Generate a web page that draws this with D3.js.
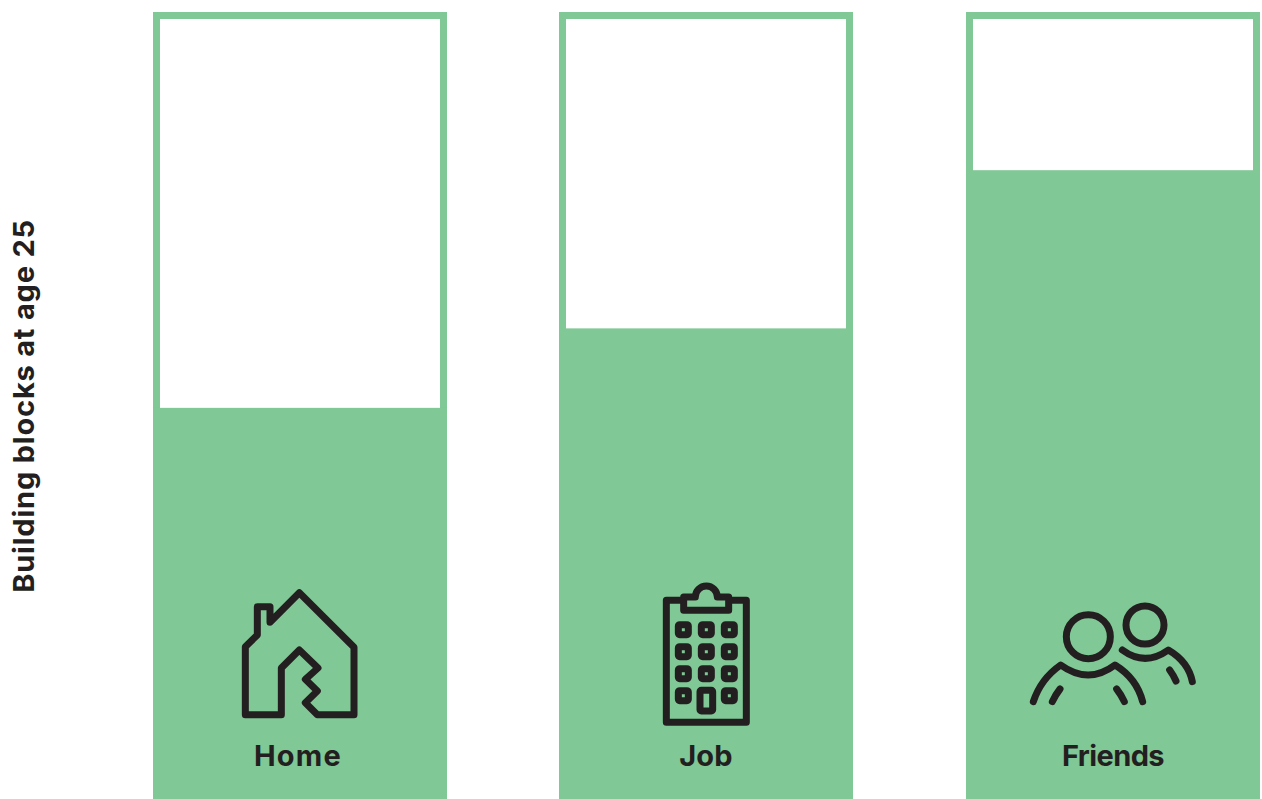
<!DOCTYPE html>
<html>
<head>
<meta charset="utf-8">
<title>Building blocks at age 25</title>
<script src="https://cdn.jsdelivr.net/npm/d3@7/dist/d3.min.js"></script>
<style>
  html, body { margin: 0; padding: 0; background: #fff; overflow: hidden; }
  svg { display: block; }
  text { font-family: "Inter", "Open Sans", sans-serif; font-weight: 700; fill: #231f20; }
</style>
</head>
<body>
<div id="chart"></div>
<script>
// Share of people with each building block in place at age 25 (percent)
const categories = ["Home", "Job", "Friends"];
const values = [49.7, 59.8, 79.9];
const axisTitle = "Building blocks at age 25";

const width = 1262, height = 799;
const green = "#80c895", ink = "#231f20";
const frameWidth = 7;

const svg = d3.select("#chart").append("svg")
  .attr("width", width)
  .attr("height", height);

const x = d3.scaleBand()
  .domain(categories)
  .range([153, 1260])
  .paddingInner(112.5 / 406.5)
  .paddingOuter(0);

const y = d3.scaleLinear()
  .domain([0, 100])
  .range([799, 12]);

const columns = svg.selectAll("g.column")
  .data(categories.map((name, i) => ({ name, value: values[i] })))
  .join("g")
  .attr("class", "column")
  .attr("transform", d => `translate(${Math.floor(x(d.name))},0)`);

// Empty container: outline inset so its outer edge sits on the full scale
columns.append("rect")
  .attr("x", frameWidth / 2)
  .attr("y", y(100) + frameWidth / 2)
  .attr("width", x.bandwidth() - frameWidth)
  .attr("height", y(0) - y(100) - frameWidth)
  .attr("fill", "#fff")
  .attr("stroke", green)
  .attr("stroke-width", frameWidth);

// Filled level
columns.append("rect")
  .attr("width", x.bandwidth())
  .attr("y", d => y(d.value))
  .attr("height", d => y(0) - y(d.value))
  .attr("fill", green);

// Category names, tracked individually to even out their widths
const tracking = { Home: 1.2, Job: 0.2, Friends: -0.6 };
columns.append("text")
  .attr("x", d => x.bandwidth() / 2 + (d.name === "Home" ? -2 : 0))
  .attr("y", 766)
  .attr("text-anchor", "middle")
  .attr("font-size", 29)
  .attr("letter-spacing", d => tracking[d.name])
  .text(d => d.name);

// Icon glyphs, drawn on a 3x grid and scaled down on placement
const icons = {
  Home: {
    offset: [67, 580],
    draw(g) {
      g.append("path").attr("d",
        "M112 80H150V127L238 38L402 202V404H292L256 368L292 333L256 298L294 264L238 210L184 264V404H76V200L112 165Z");
    }
  },
  Job: {
    offset: [81, 575],
    draw(g) {
      g.append("path").attr("d",
        "M131 76H79V442H319V76H266M131 66V106H266V66H232A33 33 0 0 0 166 66Z");
      const cols = [130, 199, 268], rows = [164, 230, 296, 362];
      rows.forEach((cy, r) => cols.forEach((cx, c) => {
        if (r === 3 && c === 1) return;
        g.append("rect")
          .attr("x", cx - 15).attr("y", cy - 15)
          .attr("width", 30).attr("height", 30)
          .attr("rx", 4);
      }));
      g.append("rect")
        .attr("x", 180).attr("y", 346)
        .attr("width", 38).attr("height", 62)
        .attr("rx", 4);
    }
  },
  Friends: {
    offset: [54, 595],
    draw(g) {
      g.append("circle").attr("cx", 205).attr("cy", 125).attr("r", 66);
      g.append("circle").attr("cx", 375).attr("cy", 90).attr("r", 57);
      g.append("path").attr("d", "M40 320Q62 252 122 210Q205 270 285 210Q350 250 368 320");
      g.append("path").attr("d", "M97 320Q106 300 120 282");
      g.append("path").attr("d", "M290 282Q304 300 313 320");
      g.append("path").attr("d", "M307 165Q375 215 445 165Q505 200 517 260");
      g.append("path").attr("d", "M449 225Q460 240 468 258");
    }
  }
};

columns.append("g")
  .attr("transform", d => `translate(${icons[d.name].offset[0]},${icons[d.name].offset[1]}) scale(${1 / 3})`)
  .attr("fill", "none")
  .attr("stroke", ink)
  .attr("stroke-width", 21)
  .attr("stroke-linejoin", "round")
  .attr("stroke-linecap", "round")
  .each(function (d) { icons[d.name].draw(d3.select(this)); });

// Vertical axis title
svg.append("text")
  .attr("transform", "translate(34,406) rotate(-90)")
  .attr("text-anchor", "middle")
  .attr("font-size", 29)
  .attr("letter-spacing", 0.8)
  .text(axisTitle);
</script>
</body>
</html>
